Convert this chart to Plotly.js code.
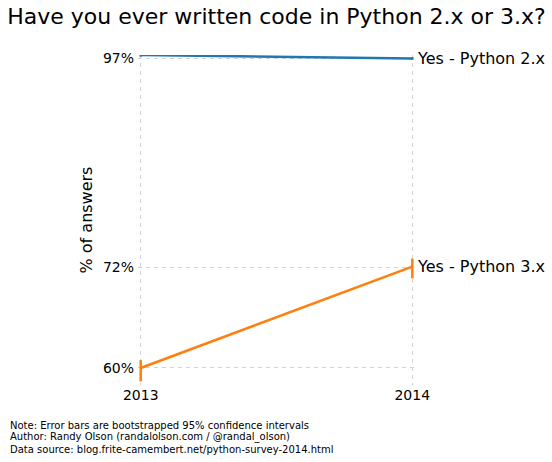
<!DOCTYPE html>
<html>
<head>
<meta charset="utf-8">
<script src="https://cdn.plot.ly/plotly-3.0.1.min.js"></script>
<style>html,body{margin:0;padding:0;background:#fff;}#chart{width:552px;height:462px;}</style>
</head>
<body>
<div id="chart"></div>
<script>
const years = [2013, 2014];
const py2Values = [97.36, 96.95];
const py2ErrPlus = [0.2, 0.15];
const py2ErrMinus = [0.2, 0.15];
const py3Values = [60.0, 72.1];
const py3ErrPlus = [0.95, 0.95];
const py3ErrMinus = [1.6, 1.4];
const seriesNames = ['Yes - Python 2.x', 'Yes - Python 3.x'];
const yTicks = [60, 72, 97];
const yTickText = ['60%', '72%', '97%'];
const xTicks = [2013, 2014];
const notes = [
  'Note: Error bars are bootstrapped 95% confidence intervals',
  'Author: Randy Olson (randalolson.com / @randal_olson)',
  'Data source: blog.frite-camembert.net/python-survey-2014.html'
];

const FONT = 'DejaVu Sans, sans-serif';
const blue = '#1f77b4', orange = '#ff7f0e';

const traces = [
  {x: years, y: py2Values, name: seriesNames[0], mode: 'lines', cliponaxis: false,
   line: {color: blue, width: 2.5},
   error_y: {type: 'data', symmetric: false, array: py2ErrPlus, arrayminus: py2ErrMinus, color: blue, thickness: 2.5, width: 0}},
  {x: years, y: py3Values, name: seriesNames[1], mode: 'lines', cliponaxis: false,
   line: {color: orange, width: 2.5},
   error_y: {type: 'data', symmetric: false, array: py3ErrPlus, arrayminus: py3ErrMinus, color: orange, thickness: 2.5, width: 0}}
];

const l = 138.29, r = 552 - 414.71, t = 55, b = 462 - 385;
const annotations = [
  {x: years[1], y: py2Values[1], xref: 'x', yref: 'y', text: seriesNames[0], showarrow: false, xanchor: 'left', yanchor: 'middle', xshift: 3, font: {family: FONT, size: 16, color: '#000'}},
  {x: years[1], y: py3Values[1], xref: 'x', yref: 'y', text: seriesNames[1], showarrow: false, xanchor: 'left', yanchor: 'middle', xshift: 3, font: {family: FONT, size: 16, color: '#000'}}
];
notes.forEach((n, i) => {
  annotations.push({x: 0, y: 0, xref: 'paper', yref: 'paper', text: n, showarrow: false,
    xanchor: 'left', yanchor: 'middle', xshift: 8 - l, yshift: -(425 + i * 12 - 385),
    font: {family: FONT, size: 10, color: '#000'}});
});

const layout = {
  width: 552, height: 462,
  margin: {l: l, r: r, t: t, b: b, pad: 0},
  paper_bgcolor: '#fff', plot_bgcolor: '#fff',
  showlegend: false,
  font: {family: FONT, color: '#000'},
  title: {text: 'Have you ever written code in Python 2.x or 3.x?', font: {family: FONT, size: 22, color: '#000'},
          x: 0.5, xanchor: 'center', xref: 'paper', y: 1 - 16 / 462, yref: 'container', yanchor: 'middle'},
  xaxis: {range: [2012.99, 2014.01], tickvals: xTicks, ticktext: xTicks.map(String), showline: false, zeroline: false,
          showgrid: true, gridcolor: '#d3d3d3', griddash: '4px,4px', gridwidth: 1, ticks: '',
          tickfont: {family: FONT, size: 14, color: '#000'}},
  yaxis: {range: [57.97, 97.36], tickvals: yTicks, ticktext: yTickText, showline: false, zeroline: false,
          showgrid: true, gridcolor: '#d3d3d3', griddash: '4px,4px', gridwidth: 1, ticks: '',
          ticklabelstandoff: 3,
          tickfont: {family: FONT, size: 14, color: '#000'},
          title: {text: '% of answers', font: {family: FONT, size: 16, color: '#000'}, standoff: 6}},
  annotations: annotations
};

Plotly.newPlot('chart', traces, layout, {displayModeBar: false, staticPlot: true});
</script>
</body>
</html>
